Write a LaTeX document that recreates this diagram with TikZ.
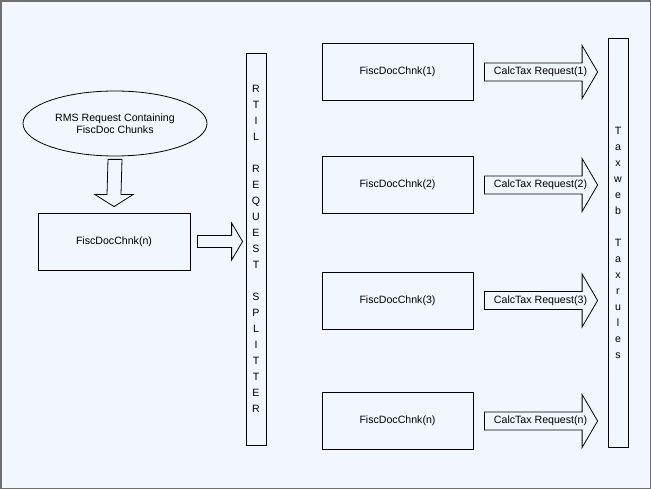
\documentclass[tikz,border=0pt]{standalone}
\usepackage{fontspec}
\setmainfont{Liberation Sans}
\usetikzlibrary{shapes.geometric,calc}
\definecolor{paper}{RGB}{242,246,255}
\definecolor{edge}{RGB}{112,112,112}
\newcommand\diafont{\fontsize{10.6bp}{12.5bp}\selectfont}

\begin{document}
\begin{tikzpicture}[x=1bp, y=-1bp,
  b/.style={draw, line width=0.8bp, minimum width=151bp, minimum height=57bp, inner sep=0pt, font=\diafont},
  bar/.style={draw, line width=0.8bp, minimum width=20bp, inner sep=0pt, align=center, font={\fontsize{10.6bp}{16bp}\selectfont}},
  lbl/.style={inner sep=0pt, font=\diafont},
  rblk/.style args={#1/#2/#3}{draw, line width=0.8bp, to path={
    ($(\tikztostart)+(0,-#1)$) -- ($(\tikztotarget)+(-#3,-#1)$) -- ($(\tikztotarget)+(-#3,-#2)$)
    -- (\tikztotarget) -- ($(\tikztotarget)+(-#3,#2)$) -- ($(\tikztotarget)+(-#3,#1)$)
    -- ($(\tikztostart)+(0,#1)$) -- cycle}},
  dblk/.style args={#1/#2/#3}{draw, line width=0.8bp, to path={
    ($(\tikztostart)+(-#1,0)$) -- ($(\tikztotarget)+(-#1,-#3)$) -- ($(\tikztotarget)+(-#2,-#3)$)
    -- (\tikztotarget) -- ($(\tikztotarget)+(#2,-#3)$) -- ($(\tikztotarget)+(#1,-#3)$)
    -- ($(\tikztostart)+(#1,0)$) -- cycle}}]
  \useasboundingbox (0,0) rectangle (651,489);
  \fill[paper] (0,0) rectangle (651,489);
  \draw[edge, line width=1.5bp] (0.75,1.25) rectangle (650.25,488.25);

  \node[draw, ellipse, line width=0.8bp, minimum width=184bp, minimum height=65bp, inner sep=0pt,
        align=center, font=\diafont] (req) at (115,123.5) {RMS Request Containing\\FiscDoc Chunks};
  \node[b, minimum width=152bp] (chn) at (114,241.5) {FiscDocChnk(n)};
  \node[bar, minimum height=392bp] (spl) at (256,249)
    {R\\T\\I\\L\\[16bp]R\\E\\Q\\U\\E\\S\\T\\[16bp]S\\P\\L\\I\\T\\T\\E\\R};

  \node[b] (c1) at (397.5,72)    {FiscDocChnk(1)};
  \node[b] (c2) at (397.5,185)   {FiscDocChnk(2)};
  \node[b] (c3) at (397.5,300.5) {FiscDocChnk(3)};
  \node[b] (cn) at (397.5,421)   {FiscDocChnk(n)};
  \node[bar, minimum height=409bp] (tax) at (618,242.5)
    {T\\a\\x\\w\\e\\b\\[16bp]T\\a\\x\\r\\u\\l\\e\\s};

  % block arrows
  \draw[dblk=7/19/12] ([yshift=-3bp]req.south) to ([yshift=6bp]chn.north);
  \draw[rblk=6/18.5/11] ([xshift=7bp]chn.east) to ([xshift=-3bp]chn.east -| spl.west);
  \draw[rblk=9/26.5/15.5] ([xshift=11bp]c1.east) to ([xshift=-10bp]c1.east -| tax.west);
  \draw[rblk=9/26.5/15.5] ([xshift=11bp]c2.east) to ([xshift=-10bp]c2.east -| tax.west);
  \draw[rblk=9/26.5/15.5] ([xshift=11bp]c3.east) to ([xshift=-10bp]c3.east -| tax.west);
  \draw[rblk=9/26.5/15.5] ([xshift=11bp]cn.east) to ([xshift=-10bp]cn.east -| tax.west);

  \node[lbl] (t1) at ($(c1.east)!.5!(c1.east -| tax.west)$) {CalcTax Request(1)};
  \node[lbl] (t2) at ($(c2.east)!.5!(c2.east -| tax.west)$) {CalcTax Request(2)};
  \node[lbl] (t3) at ($(c3.east)!.5!(c3.east -| tax.west)$) {CalcTax Request(3)};
  \node[lbl] (tn) at ($(cn.east)!.5!(cn.east -| tax.west)$) {CalcTax Request(n)};
\end{tikzpicture}
\end{document}
